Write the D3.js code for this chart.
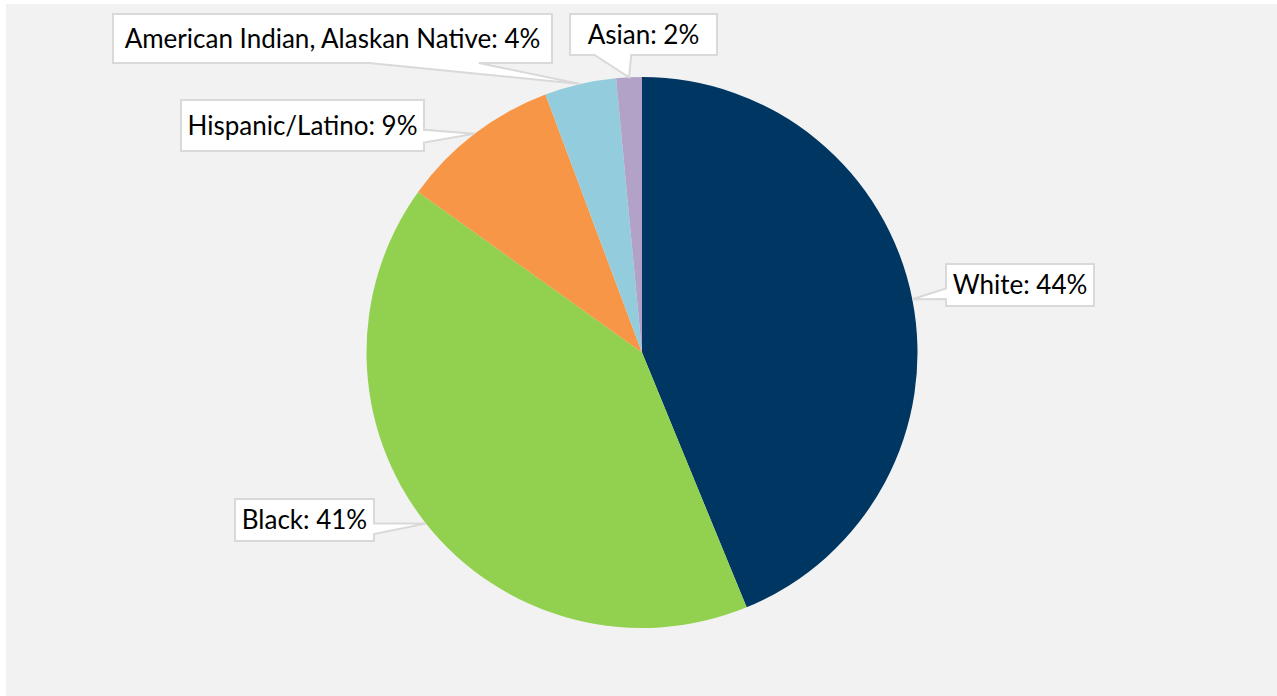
<!DOCTYPE html>
<html>
<head>
<meta charset="utf-8">
<script src="https://cdn.jsdelivr.net/npm/d3@7"></script>
<style>
  body { margin: 0; background: #ffffff; }
  svg { display: block; }
</style>
</head>
<body>
<script>
// data
var categories = ["White", "Black", "Hispanic/Latino", "American Indian, Alaskan Native", "Asian"];
var shares = [43.8, 41.1, 9.4, 4.2, 1.5];
var shareLabels = ["44%", "41%", "9%", "4%", "2%"];
var colors = ["#003662", "#92d050", "#f79646", "#93cddd", "#b3a2c7"];

// label box placement (layout only)
var labelBoxes = [
  { x: 946, y: 264, w: 148, h: 42 },
  { x: 235, y: 499, w: 139, h: 42 },
  { x: 181, y: 100, w: 243, h: 51 },
  { x: 113, y: 14,  w: 439, h: 49 },
  { x: 570, y: 14,  w: 147, h: 41 }
];

var width = 1277, height = 696;
var cx = 642, cy = 352.5, radius = 275.5;

var svg = d3.select("body")
  .append("svg")
    .attr("width", width)
    .attr("height", height);

svg.append("rect")
    .attr("x", 6)
    .attr("y", 4)
    .attr("width", width - 6)
    .attr("height", height - 4)
    .attr("fill", "#f2f2f2");

var rows = categories.map(function(c, i) {
  return { name: c, value: shares[i], label: shareLabels[i], color: colors[i], box: labelBoxes[i] };
});

var pie = d3.pie()
    .sort(null)
    .value(function(d) { return d.value; });

var arc = d3.arc()
    .innerRadius(0)
    .outerRadius(radius);

var arcs = pie(rows);

var g = svg.append("g")
    .attr("transform", "translate(" + cx + "," + cy + ")");

g.selectAll("path")
    .data(arcs)
    .enter()
  .append("path")
    .attr("d", arc)
    .attr("fill", function(d) { return d.data.color; });

// excel style wedge callout: rect with a pointer to the slice edge
function calloutPath(b, tx, ty) {
  var hc = b.x + b.w / 2, vc = b.y + b.h / 2;
  var dx = tx - hc, dy = ty - vc;
  var dq = dx * b.h / b.w;
  var x1 = b.x + b.w * (dx > 0 ? 7 : 2) / 12;
  var x2 = b.x + b.w * (dx > 0 ? 10 : 5) / 12;
  var y1 = b.y + b.h * (dy > 0 ? 7 : 2) / 12;
  var y2 = b.y + b.h * (dy > 0 ? 10 : 5) / 12;
  var L = b.x, R = b.x + b.w, T = b.y, B = b.y + b.h;
  var p;
  if (Math.abs(dy) - Math.abs(dq) > 0) {
    if (dy < 0) {
      p = [[L, T], [x1, T], [tx, ty], [x2, T], [R, T], [R, B], [L, B]];
    } else {
      p = [[L, T], [R, T], [R, B], [x2, B], [tx, ty], [x1, B], [L, B]];
    }
  } else {
    if (dx < 0) {
      p = [[L, T], [R, T], [R, B], [L, B], [L, y2], [tx, ty], [L, y1]];
    } else {
      p = [[L, T], [R, T], [R, y1], [tx, ty], [R, y2], [R, B], [L, B]];
    }
  }
  return "M" + p.map(function(q) { return q[0] + "," + q[1]; }).join("L") + "Z";
}

var labels = svg.append("g").attr("id", "labels");

labels.selectAll("path")
    .data(arcs)
    .enter()
  .append("path")
    .attr("d", function(d) {
      var a = (d.startAngle + d.endAngle) / 2;
      var tx = cx + radius * Math.sin(a);
      var ty = cy - radius * Math.cos(a);
      return calloutPath(d.data.box, tx, ty);
    })
    .attr("fill", "#ffffff")
    .attr("stroke", "#d9d9d9")
    .attr("stroke-width", 2)
    .attr("stroke-linejoin", "miter");

labels.selectAll("text")
    .data(arcs)
    .enter()
  .append("text")
    .attr("x", function(d) { return d.data.box.x + d.data.box.w / 2; })
    .attr("y", function(d) { return d.data.box.y + d.data.box.h / 2 + 9; })
    .attr("text-anchor", "middle")
    .attr("font-family", "Lato, 'Noto Sans', sans-serif")
    .attr("font-size", "26px")
    .attr("fill", "#000000")
    .text(function(d) { return d.data.name + ": " + d.data.label; });
</script>
</body>
</html>
